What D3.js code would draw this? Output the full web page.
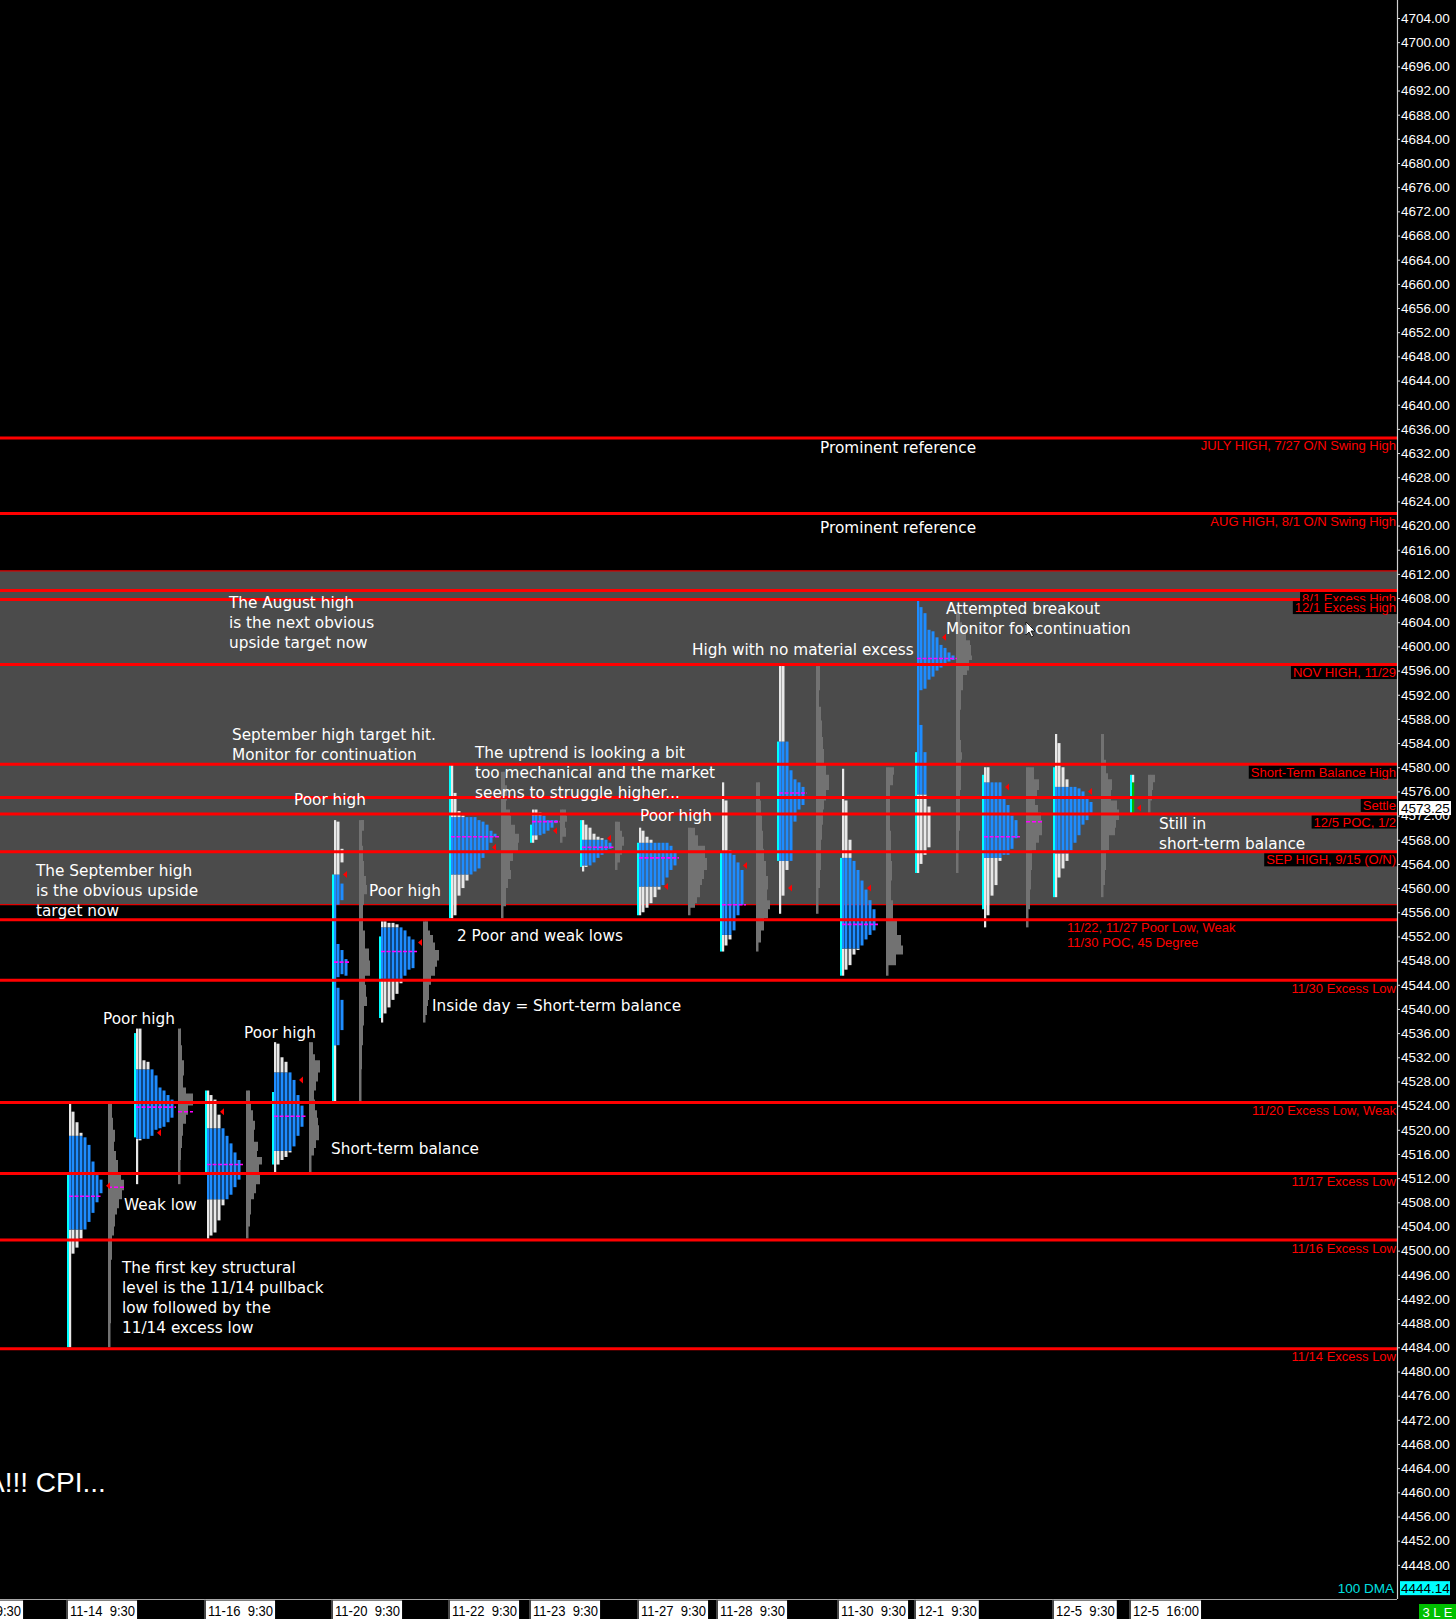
<!DOCTYPE html>
<html><head><meta charset="utf-8">
<script src="https://cdn.jsdelivr.net/npm/d3@7/dist/d3.min.js"></script>
<style>
html,body{margin:0;padding:0;background:#000;overflow:hidden;}
svg{display:block;}
</style></head><body>
<svg id="c" width="1456" height="1619"></svg>
<script>
// ================= DATA =================
const priceTicks = d3.range(4448, 4705, 4);
const balanceZone = [4557.25, 4612.5];

const refLevels = [4634.5, 4622, 4609.25, 4607.75, 4597, 4580.5, 4575, 4572.25, 4566, 4554.75, 4544.75, 4524.5, 4512.75, 4501.75, 4483.75];
const refLabels = ["JULY HIGH, 7/27 O/N Swing High", "AUG HIGH, 8/1 O/N Swing High", "8/1 Excess High", "12/1 Excess High", "NOV HIGH, 11/29", "Short-Term Balance High", "Settle", "12/5 POC, 1/2", "SEP HIGH, 9/15 (O/N)", "11/22, 11/27 Poor Low, Weak|11/30 POC, 45 Degree", "11/30 Excess Low", "11/20 Excess Low, Weak", "11/17 Excess Low", "11/16 Excess Low", "11/14 Excess Low"];

// session start / volume profile position, in 30-minute bar units
const sessionStart = [16.75, 33.5, 51.25, 68, 83, 94.75, 112.25, 132.5, 145, 159.25, 180, 194.25, 210, 228.75, 245.5, 263.25, 282.5];
const volumeStart  = [27, 44.5, 61.5, 77.25, 89.75, 105.75, 125.25, 140, 153.75, 172, 189, 204, 221.5, 239, 256.5, 275.25, 287];

const xTickLabels = ["11-13  9:30","11-14  9:30","11-16  9:30","11-20  9:30","11-22  9:30","11-23  9:30","11-27  9:30","11-28  9:30","11-30  9:30","12-1  9:30","12-5  9:30","12-5  16:00"];
const xTickPos    = [-11.5, 17, 51.5, 83.25, 112.5, 132.75, 159.75, 179.5, 209.75, 229, 263.5, 282.75];

// TPO columns per session: [column, low, high]
const tpoColumns = [
 [[0,4484,4524.5],[1,4499.5,4523],[2,4500.5,4521.25],[3,4502,4519.5],[4,4503.5,4518.75],[5,4504.75,4517.5],[6,4506.25,4514.75],[7,4508,4512.5],[8,4509.5,4511.75]],
 [[0,4511,4536.75],[1,4518.25,4536.75],[2,4518.5,4531.5],[3,4518.5,4531.25],[4,4519,4530],[5,4520,4529],[6,4520.25,4527],[7,4520.5,4526.5],[8,4521.25,4525.75],[9,4522,4525]],
 [[0,4502,4526.5],[1,4502.5,4525.75],[2,4503,4525],[3,4505,4522.5],[4,4507.5,4520.25],[5,4508.5,4519],[6,4509.25,4517.75],[7,4510.5,4516.25],[8,4511.75,4515]],
 [[0,4512.75,4534.5],[1,4514.25,4534.25],[2,4515,4532],[3,4515.5,4531.25],[4,4516.25,4529.5],[5,4517.25,4528.25],[6,4519,4525.75],[7,4520.5,4524]],
 [[0,4524.5,4571.25],[1,4557.25,4571],[1,4545.25,4550.75],[1,4534,4543.5],[2,4564.25,4566.5],[2,4558,4560.75],[2,4545.75,4549.75],[2,4536.5,4541.5],[3,4545.5,4548.25]],
 [[0,4537.75,4554.5],[1,4539.25,4554.5],[2,4540.25,4554.25],[3,4541.5,4554.25],[4,4542.5,4554],[5,4544.25,4553.5],[6,4545.5,4553],[7,4546.5,4552],[8,4546.75,4551.5]],
 [[0,4555,4580.5],[1,4555.5,4575.75],[2,4558.75,4572.75],[3,4560,4572],[4,4561.25,4571.75],[5,4562.25,4571.75],[6,4562.75,4571.75],[7,4563.25,4571.25],[8,4565,4571],[9,4566.25,4570.5],[10,4567.5,4569.5],[11,4568.5,4569]],
 [[0,4567.5,4573],[1,4568,4573],[2,4568.75,4572.5],[3,4569,4572],[4,4569.5,4571.25],[5,4570,4571.25],[6,4570.75,4571.25]],
 [[0,4562.75,4571.25],[1,4563.5,4570.5],[2,4563.75,4570],[3,4564.25,4569],[4,4565,4568.5],[5,4565.5,4568.25],[6,4566.25,4568],[7,4566.5,4567.5]],
 [[0,4555.5,4570],[1,4556,4569.5],[2,4556.75,4568.5],[3,4557.5,4568],[4,4558.5,4567.5],[5,4559.75,4567.5],[6,4560.5,4567.5],[7,4561.75,4567.5],[8,4563,4567],[9,4563.75,4566]],
 [[0,4549.5,4577.5],[1,4550.5,4574.5],[2,4551.5,4566.25],[3,4553,4565.5],[4,4555.5,4564.25],[5,4557.25,4563]],
 [[0,4555.75,4596.75],[1,4558.75,4596.75],[2,4563,4584.25],[3,4564.5,4579.5],[4,4571,4578],[5,4573,4577.5],[6,4573.75,4576.75]],
 [[0,4545.5,4579.75],[1,4546.5,4574.5],[2,4547.25,4568],[3,4549,4564.5],[4,4549.75,4563],[5,4550.5,4561.25],[6,4551.5,4559.75],[7,4552.25,4558],[8,4553,4556.5]],
 [[0,4562.5,4607.75],[1,4592.75,4606.5],[1,4564,4587],[2,4593,4605.5],[2,4565.5,4582.5],[3,4594.5,4602.75],[3,4566.75,4573.5],[4,4595,4602.5],[5,4596,4601.5],[6,4596.5,4600.25],[7,4597,4599.75],[8,4597.5,4599],[9,4597.75,4598.5]],
 [[0,4553.5,4580],[1,4555.5,4580],[2,4558.75,4577.5],[3,4560.5,4577.5],[4,4564.5,4577.5],[5,4565.5,4575],[6,4565.5,4573.75],[7,4566.5,4572],[8,4568.25,4571.25]],
 [[0,4558.5,4585.5],[1,4561.75,4584],[2,4563.25,4580],[3,4564.5,4578],[4,4566.25,4576.75],[5,4567.5,4576.75],[6,4568.75,4576.5],[7,4570.5,4576],[8,4571.25,4575],[9,4572.5,4574.25]],
 [[0,4572.5,4578.75]]
];
const valueAreas = [[4503.5,4519],[4518.5,4530],[4508.5,4520.25],[4516.5,4529.5],[4534,4562.25],[4545,4553.5],[4562.25,4571.75],[4568.75,4572],[4563.75,4568],[4560.25,4567.5],[4552.25,4566],[4564.5,4584.25],[4550,4565],[4575.5,4607.75],[4565,4577.5],[4565.75,4576.75],[4572.5,4577.5]];
const pocPrices  = [4509,4523.75,4514.25,4522.25,4547.75,4549.5,4568.5,4571,4566.75,4565,4557.25,4575.75,4554,4598,4568.5,null,null];
const closeMarks = [4510.75,4519.5,4523,4528.25,4562.25,4551,4566.75,4569.5,4568.25,4560.25,4563.75,4560,4560,4601.5,4576.75,4576,4573.25];
const openRanges = [[4484,4513],[4518.75,4536],[4513,4526.5],[4514.25,4526.25],[4524.5,4562.25],[4538.5,4552],[4555,4580.5],[4567.5,4570.5],[4563.5,4571.25],[4555.5,4567.5],[4549.5,4566],[4564.5,4584.25],[4545.5,4565],[4562.5,4582.5],[4556.5,4578.75],[4558.5,4580],[4572.5,4578.75]];

// volume profiles per session: [price, relative volume]
const volumeProfiles = [
 [[4524.5,0],[4522,2],[4520,3],[4518,5],[4516.5,4],[4515,6],[4513,8],[4511.75,11],[4510,14],[4508.5,12],[4507,9],[4506,7],[4504,5],[4502.5,4],[4500.5,2],[4498.5,2],[4495,1],[4491.75,1],[4488,1],[4484,0]],
 [[4536.75,0],[4534,1],[4531.5,2],[4529,4],[4527,3],[4526,6],[4524,13],[4522.5,8],[4521,6],[4519,3],[4517,2],[4515,1],[4511,0]],
 [[4526.5,0],[4524.5,2],[4523.25,3],[4521.5,5],[4520,7],[4518,6],[4516.5,10],[4515.5,9],[4514.25,14],[4512.5,11],[4511,12],[4509.5,8],[4508.5,6],[4506,3],[4504,2],[4502,0]],
 [[4534.5,0],[4532.5,2],[4531.5,4],[4529.5,9],[4528,7],[4526.5,5],[4525,3],[4523.25,4],[4522,6],[4520.75,7],[4518.25,8],[4517,5],[4515.75,3],[4512.75,0]],
 [[4571.25,0],[4569.5,3],[4567,1],[4564.5,2],[4562,3],[4560.5,5],[4559,6],[4557.25,3],[4553,2],[4550,4],[4548,8],[4545.5,9],[4544,4],[4542,5],[4540.5,6],[4537.25,3],[4534,2],[4530,1],[4524.5,0]],
 [[4554.5,0],[4553,3],[4552.25,5],[4551,8],[4549.75,10],[4548,14],[4547,12],[4545.5,10],[4544,6],[4543,4],[4541.5,4],[4540.5,3],[4539,2],[4537.75,0]],
 [[4579.25,0],[4577,2],[4574.5,4],[4573,3],[4572,7],[4570.5,8],[4569,12],[4567.5,16],[4566,15],[4564.5,10],[4563,7],[4561.5,8],[4560,5],[4558.5,3],[4557,3],[4555,0]],
 [[4573,0],[4572,4],[4571,5],[4570,3],[4569.5,4],[4568.5,4],[4567.5,0]],
 [[4571,0],[4569.5,3],[4568.5,5],[4567,7],[4565.5,5],[4564.25,3],[4563,0]],
 [[4570,0],[4568.75,5],[4567,8],[4565,15],[4563,17],[4561.5,14],[4560.5,12],[4558.5,10],[4557.5,7],[4556.75,5],[4555.5,0]],
 [[4577.5,0],[4574.5,2],[4572,3],[4569.5,4],[4566.5,5],[4564.5,6],[4562,8],[4559.75,10],[4558,9],[4556.5,12],[4555,10],[4553,6],[4551,3],[4549.5,0]],
 [[4596.75,0],[4592.75,2],[4590,1],[4587.75,3],[4585,4],[4583,5],[4580.5,6],[4578.75,8],[4576.25,11],[4574.5,8],[4573,6],[4570.5,5],[4568,4],[4563,3],[4560,2],[4555.75,0]],
 [[4580,0],[4578.75,6],[4577,5],[4574.5,2],[4569.5,2],[4564.5,3],[4561.25,4],[4558,3],[4554.75,5],[4552.25,9],[4550.5,13],[4549,15],[4547.25,8],[4545.5,0]],
 [[4605.75,0],[4604,2],[4602.75,4],[4601,8],[4600.25,12],[4598.5,13],[4597.75,14],[4596,11],[4595.25,9],[4592.75,5],[4589.5,3],[4587,2],[4584.5,2],[4582.5,3],[4581.25,4],[4578.5,3],[4576.25,3],[4572,2],[4569.5,2],[4566,1],[4562.5,0]],
 [[4580,0],[4578,6],[4576.25,11],[4575,9],[4573.75,7],[4572.5,10],[4571.25,13],[4568.75,14],[4567.5,11],[4566.25,8],[4563,4],[4559.75,3],[4556.5,2],[4553.5,0]],
 [[4585.5,0],[4581.25,1],[4579,3],[4578,5],[4576.25,9],[4574.5,8],[4573,14],[4571.25,16],[4570,13],[4568.75,12],[4566.25,6],[4563,3],[4560.5,2],[4558.5,0]],
 [[4578.75,0],[4577.5,5],[4576.25,3],[4574.5,2],[4572.5,0]]
];
const volumePocs = [4510.5,4523,null,null,null,null,null,null,null,null,null,null,null,null,4571,null,null];

const settlePrice = 4573.25;
const dma100 = 4444.14;

// annotations: lines, left x, first-line centre y
const notes = [
 [["Prominent reference"],820,448],
 [["Prominent reference"],820,528],
 [["The August high","is the next obvious","upside target now"],229,603],
 [["Attempted breakout","Monitor for continuation"],946,609],
 [["High with no material excess"],692,650],
 [["September high target hit.","Monitor for continuation"],232,735],
 [["The uptrend is looking a bit","too mechanical and the market","seems to struggle higher..."],475,753],
 [["Poor high"],294,800],
 [["Poor high"],640,816],
 [["Still in","short-term balance"],1159,824],
 [["The September high","is the obvious upside","target now"],36,871],
 [["Poor high"],369,891],
 [["2 Poor and weak lows"],457,936],
 [["Inside day = Short-term balance"],432,1006],
 [["Poor high"],103,1019],
 [["Poor high"],244,1033],
 [["Short-term balance"],331,1149],
 [["Weak low"],124,1205],
 [["The first key structural","level is the 11/14 pullback","low followed by the","11/14 excess low"],122,1268]
];

// ================= DRAW =================
const W = 1456, H = 1619, plotRight = 1397, plotBottom = 1599;
const svg = d3.select("#c");
const y = d3.scaleLinear().domain([4444, 4704]).range([1589, 18]);
const x = d3.scaleLinear().domain([0, 349.25]).range([0, plotRight]);
const vw = d3.scaleLinear().domain([0, 20]).range([0, 20]);

const ARIAL = "'Liberation Sans', Arial, sans-serif";
const NOTEFONT = "'DejaVu Sans', Verdana, sans-serif";

svg.append("rect").attr("width", W).attr("height", H).attr("fill", "#000");
const plot = svg.append("g");
plot.append("defs").append("clipPath").attr("id","pc").append("rect").attr("x",0).attr("y",0).attr("width",plotRight).attr("height",plotBottom);
const P = plot.append("g").attr("clip-path","url(#pc)");

// balance zone
P.append("rect").attr("x",0).attr("width",plotRight)
 .attr("y", y(balanceZone[1])).attr("height", y(balanceZone[0]) - y(balanceZone[1]))
 .attr("fill","#4b4b4b");
balanceZone.forEach(v => P.append("line").attr("x1",0).attr("x2",plotRight).attr("y1",y(v)).attr("y2",y(v)).attr("stroke","#e00000").attr("stroke-width",1.2));

// profiles
sessionStart.forEach((s, i) => {
  const g = P.append("g");
  // volume profile
  const vp = volumeProfiles[i];
  const vx = x(volumeStart[i]);
  const vmax = d3.max(vp, d => d[0]), vmin = d3.min(vp, d => d[0]);
  g.append("path")
   .attr("d", d3.area().curve(d3.curveStepAfter).x0(vx + 2).x1(d => vx + 2 + vw(d[1])).y(d => y(d[0]))(vp))
   .attr("fill", "#727272");
  g.append("rect").attr("x", vx).attr("width", 2.5).attr("y", y(vmax)).attr("height", y(vmin) - y(vmax)).attr("fill", "#727272");
  if (volumePocs[i] != null) {
    g.append("line").attr("x1", vx).attr("x2", vx + 2 + vw(d3.max(vp, d => d[1])))
     .attr("y1", y(volumePocs[i])).attr("y2", y(volumePocs[i]))
     .attr("stroke", "#ff00ff").attr("stroke-width", 1.5).attr("stroke-dasharray", "4,2");
  }
  // TPO columns
  const [val, vah] = valueAreas[i];
  const vaColor = i === sessionStart.length - 1 ? "#00b800" : "#1e8cff";
  tpoColumns[i].forEach(([k, lo, hi]) => {
    const cx = x(s + k) + (k === 0 ? 2 : 0.5);
    const cw = k === 0 ? 2.2 : 3;
    const segs = [];
    if (lo < val) segs.push([lo, Math.min(hi, val), "#e8e8e8"]);
    if (hi > val && lo < vah) segs.push([Math.max(lo, val), Math.min(hi, vah), vaColor]);
    if (hi > vah) segs.push([Math.max(lo, vah), hi, "#e8e8e8"]);
    segs.forEach(sg => g.append("rect").attr("x", cx).attr("width", cw)
      .attr("y", y(sg[1])).attr("height", Math.max(1, y(sg[0]) - y(sg[1]))).attr("fill", sg[2]));
  });
  // opening range (cyan)
  const orr = openRanges[i];
  g.append("rect").attr("x", x(s)).attr("width", 2).attr("y", y(orr[1])).attr("height", y(orr[0]) - y(orr[1])).attr("fill", "#00ffff");
  const depth = p => d3.max(tpoColumns[i].filter(c => c[1] <= p && c[2] >= p), c => c[0] + 1) || 1;
  // POC
  if (pocPrices[i] != null) {
    const n = depth(pocPrices[i]);
    g.append("line").attr("x1", x(s) + 2).attr("x2", x(s + n) + 2)
     .attr("y1", y(pocPrices[i])).attr("y2", y(pocPrices[i]))
     .attr("stroke", "#ff00ff").attr("stroke-width", 1.6).attr("stroke-dasharray", "4,1.5");
  }
  // close marker
  const c = closeMarks[i];
  const tx = x(s + depth(c)) + 3, ty = y(c);
  g.append("path").attr("d", `M${tx},${ty} L${tx + 4},${ty - 3.5} L${tx + 4},${ty + 3.5} Z`).attr("fill", "#ff0000");
});

// reference lines
refLevels.forEach(v => P.append("line").attr("x1", 0).attr("x2", plotRight).attr("y1", y(v)).attr("y2", y(v)).attr("stroke", "#ff0000").attr("stroke-width", 3));

// reference labels
refLevels.forEach((v, i) => {
  const lines = refLabels[i].split("|");
  const inZone = v > balanceZone[0] && v < balanceZone[1];
  if (lines.length > 1) {
    lines.forEach((t, j) => P.append("text").attr("x", 1067).attr("y", y(v) + 12 + j * 15)
      .attr("font-family", ARIAL).attr("font-size", 13).attr("fill", "#ff0000").text(t));
    return;
  }
  const t = P.append("text").attr("x", plotRight - 1).attr("y", y(v) + 12.5).attr("text-anchor", "end")
    .attr("font-family", ARIAL).attr("font-size", 13).attr("fill", "#ff0000").text(lines[0]);
  if (inZone) {
    const bb = t.node().getBBox();
    P.insert("rect", () => t.node()).attr("x", bb.x - 2).attr("y", y(v) + 1.5).attr("width", bb.width + 3).attr("height", 13).attr("fill", "#000");
  }
});

// annotations
notes.forEach(([lines, nx, ny]) => {
  lines.forEach((t, j) => P.append("text").attr("x", nx).attr("y", ny + j * 20)
    .attr("dominant-baseline", "central").attr("font-family", NOTEFONT).attr("font-size", 15.3)
    .attr("fill", "#ffffff").text(t));
});
P.append("text").attr("x", -14).attr("y", 1482).attr("dominant-baseline", "central")
 .attr("font-family", ARIAL).attr("font-size", 28).attr("fill", "#fff").text("A!!! CPI...");

// mouse cursor
P.append("path").attr("transform", "translate(1026,622)")
 .attr("d", "M0,0 L0,13 L3,10 L5.5,15 L7.5,14 L5,9 L9,9 Z")
 .attr("fill", "#fff").attr("stroke", "#000").attr("stroke-width", 0.8);

// ===== right axis =====
const yAxis = d3.axisRight(y).tickValues(priceTicks).tickFormat(d3.format(".2f")).tickSize(3).tickPadding(1);
const ax = svg.append("g").attr("transform", `translate(${plotRight},0)`).call(yAxis);
ax.select(".domain").remove();
ax.selectAll(".tick line").attr("stroke", "#ddd");
ax.selectAll(".tick text").attr("fill", "#fff").attr("font-family", ARIAL).attr("font-size", 13.5);
svg.append("line").attr("x1", plotRight + 0.5).attr("x2", plotRight + 0.5).attr("y1", 0).attr("y2", plotBottom).attr("stroke", "#d0d0d0").attr("stroke-width", 1.2);
svg.append("line").attr("x1", 0).attr("x2", plotRight).attr("y1", plotBottom + 0.5).attr("y2", plotBottom + 0.5).attr("stroke", "#a8a8a8").attr("stroke-width", 1.2);

// settle box
svg.append("rect").attr("x", 1399).attr("y", y(settlePrice) - 7).attr("width", 52).attr("height", 14).attr("fill", "#fff");
svg.append("text").attr("x", 1401).attr("y", y(settlePrice)).attr("dominant-baseline", "central")
 .attr("font-family", ARIAL).attr("font-size", 13.5).attr("fill", "#000").text(d3.format(".2f")(settlePrice));

// 100 DMA
svg.append("rect").attr("x", 1400).attr("y", y(dma100) - 7).attr("width", 50).attr("height", 14).attr("fill", "#00ffff");
svg.append("text").attr("x", 1401).attr("y", y(dma100)).attr("dominant-baseline", "central")
 .attr("font-family", ARIAL).attr("font-size", 13.5).attr("fill", "#000").text(d3.format(".2f")(dma100));
svg.append("text").attr("x", 1394).attr("y", y(dma100)).attr("dominant-baseline", "central").attr("text-anchor", "end")
 .attr("font-family", ARIAL).attr("font-size", 13.5).attr("fill", "#00e0e0").text("100 DMA");

// 3 L E box
svg.append("rect").attr("x", 1419).attr("y", 1604).attr("width", 37).attr("height", 15).attr("fill", "#00c000");
svg.append("text").attr("x", 1422.5).attr("y", 1612).attr("dominant-baseline", "central").style("white-space", "pre")
 .attr("font-family", ARIAL).attr("font-size", 13).attr("fill", "#fff").text("3 L E");

// ===== bottom axis labels =====
const xg = svg.append("g");
xTickLabels.forEach((lab, i) => {
  const bx = x(xTickPos[i]);
  xg.append("line").attr("x1", bx - 1).attr("x2", bx - 1).attr("y1", plotBottom).attr("y2", H).attr("stroke", "#909090");
  const t = xg.append("text").attr("x", bx + 2).attr("y", 1610).attr("dominant-baseline", "central")
    .attr("font-family", ARIAL).attr("font-size", 15).style("white-space", "pre").attr("fill", "#000").text(lab);
  const nat = t.node().getComputedTextLength();
  const w = nat * 0.87;
  t.attr("textLength", w).attr("lengthAdjust", "spacingAndGlyphs");
  xg.insert("rect", () => t.node()).attr("x", bx).attr("y", 1600.5).attr("width", w + 4).attr("height", 18.5).attr("fill", "#fff");
});
</script>
</body></html>
